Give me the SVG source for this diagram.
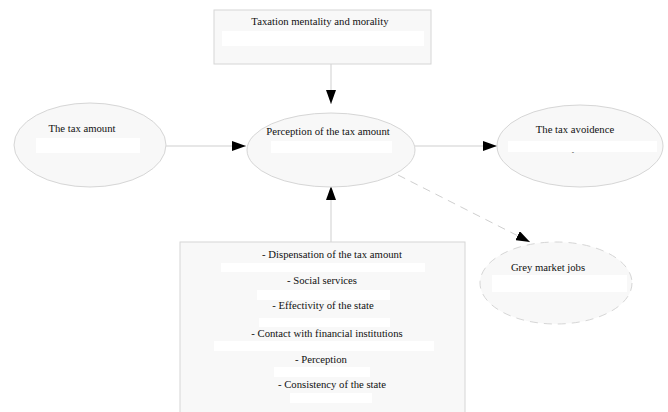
<svg xmlns="http://www.w3.org/2000/svg" width="668" height="412" viewBox="0 0 668 412">
<style>
.shape{fill:#f8f8f8;stroke:#d6d6d6;stroke-width:1}
.dash{stroke-dasharray:8 6}
.bar{fill:#ffffff;stroke:none}
.t{font-family:"Liberation Serif","Times New Roman",serif;font-size:10.7px;fill:#111;text-anchor:middle}
.edge{stroke:#cfcfcf;stroke-width:1;fill:none}
</style>
<defs>
<marker id="ah" viewBox="0 0 14 10" refX="14" refY="5" markerWidth="14" markerHeight="10" markerUnits="userSpaceOnUse" orient="auto">
<path d="M0,0 L14,5 L0,10 Z" fill="#000"/>
</marker>
</defs>
<rect width="668" height="412" fill="#ffffff"/>
<g id="connectors">
<line class="edge" x1="331" y1="64" x2="331" y2="104" marker-end="url(#ah)"/>
<line class="edge" x1="165" y1="146" x2="246" y2="146" marker-end="url(#ah)"/>
<line class="edge" x1="414" y1="146" x2="497" y2="146" marker-end="url(#ah)"/>
<line class="edge" x1="331" y1="242" x2="331" y2="186" marker-end="url(#ah)"/>
<line class="edge dash" x1="398" y1="175" x2="530" y2="242" marker-end="url(#ah)"/>
</g>
<g id="node-taxation">
<rect class="shape" x="214" y="10" width="217" height="54"/>
<rect class="bar" x="222" y="31" width="202" height="15"/>
<text class="t" x="320" y="25">Taxation mentality and morality</text>
</g>
<g id="node-tax-amount">
<ellipse class="shape" cx="90" cy="145" rx="76" ry="42"/>
<rect class="bar" x="36" y="138" width="104" height="15"/>
<text class="t" x="82" y="132">The tax amount</text>
</g>
<g id="node-perception">
<ellipse class="shape" cx="331" cy="150" rx="84" ry="37"/>
<rect class="bar" x="271" y="141" width="121" height="12"/>
<text class="t" x="328" y="135">Perception of the tax amount</text>
</g>
<g id="node-avoidence">
<ellipse class="shape" cx="580" cy="146" rx="83" ry="41"/>
<rect class="bar" x="508" y="141" width="149" height="11"/>
<text class="t" x="575" y="133">The tax avoidence</text>
<text class="t" x="573" y="154" style="font-size:7px">-</text>
</g>
<g id="node-grey">
<ellipse class="shape dash" cx="556" cy="283" rx="76" ry="41"/>
<rect class="bar" x="492" y="275" width="135" height="17"/>
<text class="t" x="548" y="271">Grey market jobs</text>
</g>
<g id="node-factors">
<rect class="shape" x="180" y="242" width="285" height="180"/>
<rect class="bar" x="221" y="263" width="204" height="9"/>
<text class="t" x="332" y="258">- Dispensation of the tax amount</text>
<rect class="bar" x="257" y="290" width="133" height="10"/>
<text class="t" x="322" y="284">- Social services</text>
<rect class="bar" x="259" y="318" width="131" height="9"/>
<text class="t" x="323" y="309">- Effectivity of the state</text>
<rect class="bar" x="214" y="341" width="220" height="10"/>
<text class="t" x="327" y="337">- Contact with financial institutions</text>
<rect class="bar" x="274" y="367" width="96" height="10"/>
<text class="t" x="321" y="363">- Perception</text>
<rect class="bar" x="290" y="393" width="82" height="10"/>
<text class="t" x="332" y="388">- Consistency of the state</text>
</g>
</svg>
